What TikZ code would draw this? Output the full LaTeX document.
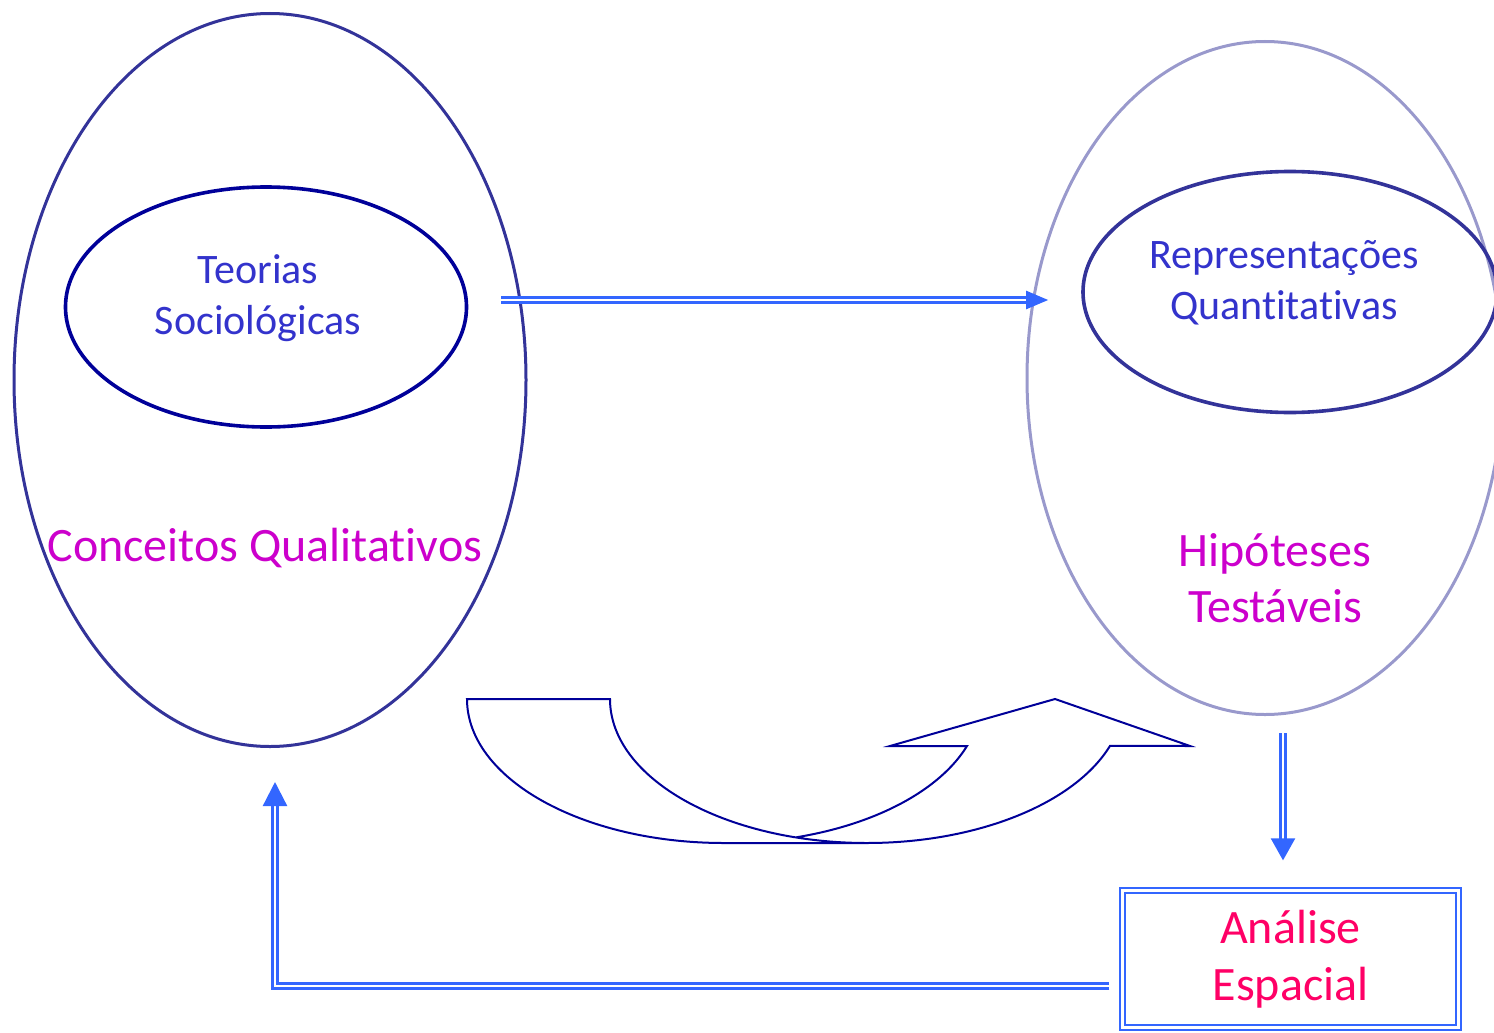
\documentclass[tikz,border=0pt]{standalone}
\usepackage{fontspec}
\setmainfont{Carlito}[Ligatures=NoCommon]
\usetikzlibrary{shapes.geometric,arrows.meta,calc}
\definecolor{ovalblue}{HTML}{333399}
\definecolor{navyline}{HTML}{000099}
\definecolor{lavline}{HTML}{9999CC}
\definecolor{arrowblue}{HTML}{3366FF}
\definecolor{textblue}{HTML}{3333CC}
\definecolor{textmag}{HTML}{CC00CC}
\definecolor{textrose}{HTML}{FF0066}
\begin{document}
\begin{tikzpicture}[x=1pt,y=-1pt,
    oval/.style={draw,ellipse,inner sep=0pt},
    bluetext/.style={text=textblue,font=\fontsize{42}{51}\selectfont,align=center,inner sep=0pt},
    magtext/.style={text=textmag,font=\fontsize{48}{56}\selectfont,align=center,inner sep=0pt},
    dblarrow/.style={draw=arrowblue,double,line width=2.3pt,double distance=2.6pt},
    uturn/.style={draw=navyline,line width=2pt,line join=miter}]
    \useasboundingbox (0,0) rectangle (1494,1033);
    % ovals
    \node[oval,draw=ovalblue,line width=3pt,minimum width=512pt,minimum height=733pt] (conceitos) at (270,380) {};
    \node[oval,draw=navyline,line width=3.6pt,minimum width=401pt,minimum height=240pt] (teorias) at (266,307) {};
    \node[oval,draw=lavline,line width=3pt,minimum width=476pt,minimum height=673pt] (hipoteses) at (1265,378) {};
    \node[oval,draw=ovalblue,line width=3.6pt,minimum width=414pt,minimum height=241pt] (repres) at (1290,292) {};
    % labels
    \node[bluetext] (teoriastxt) at (258,298) {Teorias\\Sociológicas};
    \node[bluetext] (reprtxt) at (1284,283) {Representações\\Quantitativas};
    \node[magtext] (conctxt) at (265,548) {Conceitos Qualitativos};
    \node[magtext] (hipotxt) at (1275,578) {Hipóteses\\Testáveis};
    \node[dblarrow,minimum width=336pt,minimum height=137pt,text=textrose,font=\fontsize{48}{57}\selectfont,align=center] (analise) at (1290.5,959) {Análise\\Espacial};
    % connectors
    \coordinate (mid) at (0,300);
    \draw[dblarrow,-{Triangle[length=22pt,width=18pt]}] ([xshift=33pt]teorias.east |- mid) -- ([xshift=-33pt]repres.west |- mid);
    \draw[dblarrow,-{Triangle[length=22pt,width=24pt]}] ($(hipoteses.south)+(18,17)$) -- ($(analise.north)+(-7.5,-29)$);
    \draw[dblarrow,-{Triangle[length=24pt,width=24pt]}] ($(analise.west)+(-12,27)$) -| ($(conceitos.south)+(5,34)$);
    % curved arrow
    \draw[uturn] (867,843) -- (724,843) arc[start angle=90,end angle=180,x radius=257,y radius=144]
        -- (610,699) arc[start angle=180,end angle=19,x radius=257,y radius=144]
        -- (1190,746) -- (1055,699) -- (890,746) -- (967,746)
        arc[start angle=19,end angle=73.8,x radius=257,y radius=144];
\end{tikzpicture}
\end{document}
